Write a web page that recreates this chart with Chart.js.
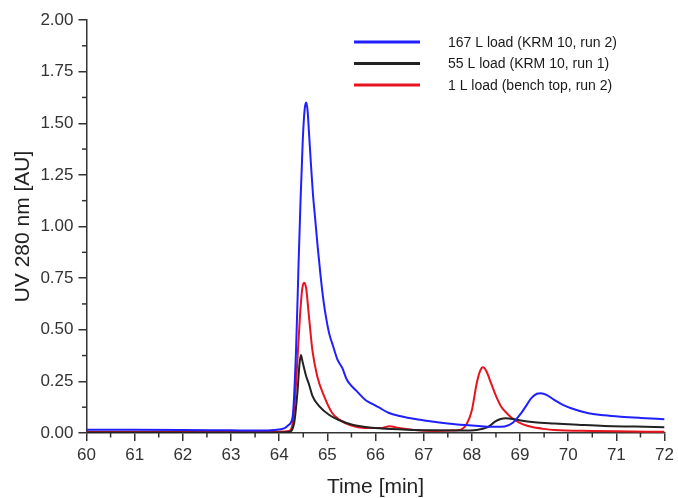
<!DOCTYPE html>
<html>
<head>
<meta charset="utf-8">
<script src="https://cdn.jsdelivr.net/npm/chart.js@4/dist/chart.umd.min.js"></script>
<style>
html,body{margin:0;padding:0;background:#fff;}
#wrap{width:678px;height:498px;}
</style>
</head>
<body>
<div id="wrap"><canvas id="c" width="678" height="498"></canvas></div>
<script>
// ---- data ----
const seriesLabels = ["167 L load (KRM 10, run 2)", "55 L load (KRM 10, run 1)", "1 L load (bench top, run 2)"];

const blueTime = [60,61,62,63,63.6,63.9,64.1,64.2,64.28,64.35,64.40,64.44,64.49,64.53,64.56,64.59,64.62,64.66,64.70,64.75,64.80,64.86,64.92,64.98,65.04,65.12,65.21,65.31,65.40,65.5,65.6,65.79,65.86,66.06,66.27,66.5,66.88,67.2,67.56,68.0,68.25,68.5,68.68,68.85,69.02,69.15,69.23,69.35,69.43,69.55,69.71,69.9,70.06,70.4,70.75,71.09,71.5,72];
const blueUV   = [0.016,0.016,0.015,0.013,0.012,0.015,0.022,0.04,0.08,0.40,0.80,1.10,1.42,1.57,1.60,1.56,1.45,1.30,1.16,1.03,0.90,0.76,0.64,0.55,0.48,0.42,0.355,0.315,0.26,0.228,0.205,0.16,0.15,0.125,0.098,0.082,0.065,0.055,0.045,0.036,0.032,0.030,0.032,0.05,0.095,0.14,0.168,0.19,0.193,0.185,0.16,0.135,0.12,0.097,0.086,0.079,0.073,0.067];

const blackTime = [60,64.0,64.2,64.31,64.38,64.42,64.45,64.49,64.56,64.62,64.69,64.83,65.04,65.24,65.52,65.93,66.13,66.8,67.22,67.8,68.1,68.25,68.34,68.48,68.6,68.7,68.85,69.02,69.3,69.71,70.2,70.75,71.4,72];
const blackUV   = [0.003,0.003,0.005,0.047,0.20,0.33,0.378,0.34,0.275,0.235,0.18,0.13,0.087,0.063,0.04,0.025,0.022,0.015,0.013,0.012,0.015,0.022,0.03,0.055,0.068,0.071,0.068,0.06,0.052,0.046,0.04,0.034,0.031,0.028];

const redTime = [60,63,64.0,64.2,64.28,64.35,64.43,64.48,64.52,64.56,64.62,64.69,64.79,64.93,65.1,65.25,65.38,65.72,65.86,66.1,66.3,66.45,66.8,67.22,67.6,67.77,67.9,68.0,68.1,68.17,68.23,68.3,68.4,68.5,68.61,68.75,68.89,69.05,69.23,69.5,69.71,70.5,71,72];
const redUV   = [0.005,0.005,0.006,0.01,0.047,0.24,0.56,0.70,0.727,0.70,0.56,0.40,0.275,0.18,0.097,0.065,0.047,0.025,0.024,0.024,0.033,0.026,0.015,0.01,0.012,0.016,0.047,0.11,0.24,0.30,0.318,0.30,0.24,0.18,0.127,0.09,0.063,0.043,0.03,0.02,0.015,0.01,0.008,0.006];

const xTicks = [60,61,62,63,64,65,66,67,68,69,70,71,72];
const yTicks = [0,0.25,0.5,0.75,1.0,1.25,1.5,1.75,2.0];

const seriesColors = ["#1f1fff", "#222222", "#e5141e"];

function pts(t, v){ return t.map((x,i)=>({x:x, y:v[i]})); }

const AX = '#333333';
const FONT = "'Liberation Sans', Arial, Helvetica, sans-serif";

const minorTicks = {
  id: 'minorTicks',
  afterDraw(chart){
    const ctx = chart.ctx, xs = chart.scales.x, ys = chart.scales.y;
    ctx.save();
    ctx.strokeStyle = AX; ctx.lineWidth = 1.5;
    for (let i=0;i<xTicks.length-1;i++){
      const v = (xTicks[i]+xTicks[i+1])/2;
      const px = xs.getPixelForValue(v);
      ctx.beginPath(); ctx.moveTo(px, ys.bottom); ctx.lineTo(px, ys.bottom+4.5); ctx.stroke();
    }
    for (let i=0;i<yTicks.length-1;i++){
      const v = (yTicks[i]+yTicks[i+1])/2;
      const py = ys.getPixelForValue(v);
      ctx.beginPath(); ctx.moveTo(xs.left, py); ctx.lineTo(xs.left-4.5, py); ctx.stroke();
    }
    ctx.restore();
  }
};

const insideLegend = {
  id: 'insideLegend',
  afterDraw(chart){
    const ctx = chart.ctx;
    ctx.save();
    ctx.font = "14px " + FONT;
    ctx.textBaseline = 'middle';
    ctx.textAlign = 'left';
    chart.data.datasets.forEach((ds,i)=>{
      const y = 42 + i*21.5;
      ctx.strokeStyle = ds.borderColor; ctx.lineWidth = 3;
      ctx.beginPath(); ctx.moveTo(354, y); ctx.lineTo(420, y); ctx.stroke();
      ctx.fillStyle = '#1a1a1a';
      ctx.fillText(ds.label, 448, y+1);
    });
    ctx.restore();
  }
};

new Chart(document.getElementById('c'), {
  type: 'line',
  data: {
    datasets: [
      {label: seriesLabels[0], data: pts(blueTime, blueUV), borderColor: seriesColors[0]},
      {label: seriesLabels[1], data: pts(blackTime, blackUV), borderColor: seriesColors[1]},
      {label: seriesLabels[2], data: pts(redTime, redUV), borderColor: seriesColors[2]}
    ]
  },
  options: {
    responsive: false,
    animation: false,
    devicePixelRatio: 1,
    layout: {padding: {left: 0, right: 11, top: 20, bottom: 0}},
    elements: {
      point: {radius: 0},
      line: {borderWidth: 2, tension: 0.4, cubicInterpolationMode: 'monotone', fill: false}
    },
    plugins: {legend: {display: false}, tooltip: {enabled: false}},
    scales: {
      x: {
        type: 'linear', min: 60, max: 72,
        afterBuildTicks: s => { s.ticks = xTicks.map(v=>({value:v})); },
        afterFit: s => { s.height = 65; },
        border: {color: AX, width: 1.5},
        grid: {drawOnChartArea: false, drawTicks: true, tickLength: 8, color: AX, lineWidth: 1.5},
        ticks: {color: AX, font: {family: FONT, size: 17}, padding: 4, maxRotation: 0,
                callback: v => String(v)},
        title: {display: true, text: 'Time [min]', color: '#222', font: {family: FONT, size: 21, lineHeight: 1.0}, padding: {top: 0, bottom: 0}}
      },
      y: {
        type: 'linear', min: 0, max: 2,
        afterBuildTicks: s => { s.ticks = yTicks.map(v=>({value:v})); },
        afterFit: s => { s.width = 86.5; },
        border: {color: AX, width: 1.5},
        grid: {drawOnChartArea: false, drawTicks: true, tickLength: 8, color: AX, lineWidth: 1.5},
        ticks: {color: AX, font: {family: FONT, size: 17}, padding: 5,
                callback: v => Number(v).toFixed(2)},
        title: {display: true, text: 'UV 280 nm [AU]', color: '#222', font: {family: FONT, size: 21, lineHeight: 1.2}, padding: {top: 11, bottom: 0}}
      }
    }
  },
  plugins: [minorTicks, insideLegend]
});
</script>
</body>
</html>
